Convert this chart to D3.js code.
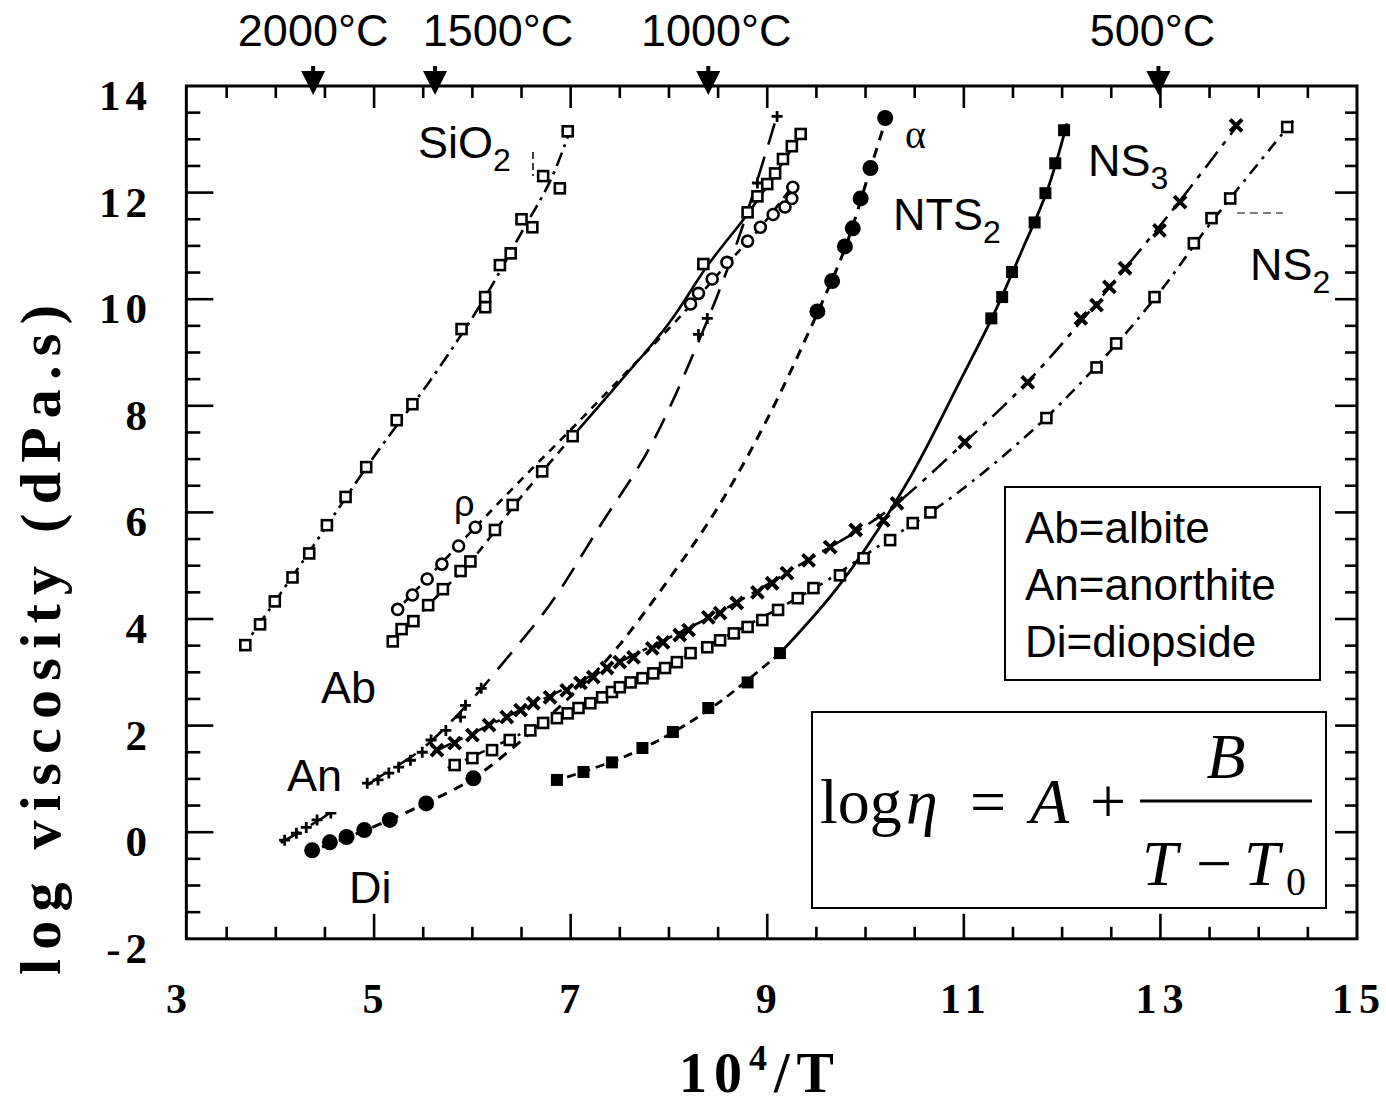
<!DOCTYPE html>
<html>
<head>
<meta charset="utf-8">
<script src="https://cdn.jsdelivr.net/npm/d3@7"></script>
<style>
  body { margin: 0; background: #fff; }
  svg { display: block; }
</style>
</head>
<body>
<svg id="chart" width="1386" height="1105"></svg>
<script>
// ---- Measured viscosity data: [10^4/T, log viscosity (dPa.s)] ----
const sio2 = [[3.69,3.51],[3.84,3.90],[3.99,4.33],[4.17,4.78],[4.34,5.23],[4.52,5.76],[4.71,6.29],[4.92,6.85],[5.23,7.73],[5.39,8.03],[5.89,9.44],[6.13,10.04],[6.13,9.85],[6.28,10.64],[6.39,10.86],[6.50,11.50],[6.61,11.35],[6.72,12.31],[6.89,12.08],[6.97,13.15]];
const albiteCircles = [[5.24,4.18],[5.39,4.45],[5.54,4.75],[5.69,5.03],[5.86,5.37],[6.03,5.72],[8.22,9.91],[8.30,10.11],[8.44,10.38],[8.59,10.69],[8.80,11.09],[8.93,11.35],[9.06,11.59],[9.18,11.73],[9.25,11.89],[9.26,12.10]];
const albiteSquares = [[5.19,3.58],[5.28,3.81],[5.40,3.96],[5.55,4.26],[5.70,4.56],[5.88,4.90],[5.98,5.08],[6.23,5.67],[6.41,6.14],[6.71,6.77],[7.02,7.43],[8.35,10.66],[8.80,11.63],[8.90,11.93],[9.00,12.16],[9.08,12.36],[9.16,12.63],[9.25,12.87],[9.34,13.10]];
const anorthite = [[4.09,-0.15],[4.21,-0.02],[4.31,0.09],[4.42,0.23],[4.56,0.36],[4.93,0.92],[5.04,0.98],[5.15,1.11],[5.25,1.22],[5.37,1.35],[5.49,1.50],[5.58,1.73],[5.73,1.91],[5.88,2.16],[5.93,2.38],[6.09,2.70],[8.30,9.34],[8.39,9.64],[8.90,12.18],[9.10,13.43]];
const diopside = [[4.37,-0.34],[4.55,-0.19],[4.72,-0.09],[4.90,0.04],[5.16,0.23],[5.53,0.54],[6.01,1.01],[9.51,9.77],[9.66,10.34],[9.79,10.99],[9.87,11.33],[9.95,11.89],[10.05,12.46],[10.20,13.40]];
const nts2 = [[6.86,0.98],[7.13,1.13],[7.42,1.31],[7.73,1.58],[8.04,1.88],[8.40,2.33],[8.80,2.81],[9.13,3.36],[11.28,9.64],[11.39,10.04],[11.49,10.51],[11.72,11.44],[11.83,11.99],[11.93,12.55],[12.02,13.17]];
const ns3 = [[5.64,1.54],[5.82,1.67],[6.00,1.82],[6.17,2.01],[6.35,2.16],[6.49,2.29],[6.62,2.42],[6.79,2.53],[6.96,2.66],[7.10,2.80],[7.23,2.91],[7.37,3.08],[7.50,3.19],[7.64,3.28],[7.83,3.45],[7.94,3.56],[8.11,3.70],[8.20,3.79],[8.40,4.03],[8.52,4.11],[8.69,4.30],[8.90,4.50],[9.05,4.67],[9.20,4.86],[9.42,5.10],[9.64,5.35],[9.90,5.67],[10.18,5.85],[10.32,6.17],[11.01,7.32],[11.65,8.44],[12.19,9.64],[12.35,9.89],[12.48,10.23],[12.64,10.58],[12.99,11.29],[13.20,11.82],[13.77,13.26]];
const ns2 = [[5.82,1.26],[6.00,1.39],[6.20,1.54],[6.38,1.73],[6.59,1.91],[6.72,2.05],[6.86,2.14],[6.97,2.23],[7.08,2.33],[7.20,2.42],[7.32,2.53],[7.42,2.63],[7.50,2.72],[7.61,2.81],[7.73,2.89],[7.84,2.98],[7.96,3.08],[8.08,3.19],[8.22,3.36],[8.39,3.47],[8.52,3.60],[8.66,3.73],[8.80,3.85],[8.95,3.98],[9.11,4.17],[9.31,4.39],[9.47,4.58],[9.74,4.82],[9.98,5.14],[10.25,5.48],[10.48,5.80],[10.66,6.00],[11.84,7.77],[12.35,8.72],[12.55,9.17],[12.94,10.04],[13.34,11.05],[13.52,11.52],[13.71,11.89],[14.29,13.23]];

// ---- Fitted VFT curves (vertices along each fit) ----
const sio2Fit = [[3.64,3.40],[4.3,5.15],[5.0,7.05],[5.6,8.55],[6.1,9.95],[6.5,11.25],[6.8,12.25],[7.02,13.3]];
const albiteCirclesFit = [[5.2,4.1],[5.6,4.88],[6.03,5.72],[6.5,6.62],[7.0,7.55],[7.5,8.5],[8.0,9.45],[8.3,10.05],[8.6,10.68],[8.9,11.28],[9.27,12.15]];
const albiteSquaresFit = [[5.15,3.5],[5.6,4.35],[6.0,5.12],[6.5,6.3],[7.02,7.43],[7.5,8.45],[8.0,9.55],[8.4,10.65],[8.8,11.6],[9.1,12.4],[9.36,13.15]];
const anorthiteFit = [[4.05,-0.2],[4.5,0.3],[5.0,0.97],[5.5,1.58],[6.0,2.5],[6.3,3.15],[6.8,4.3],[7.3,5.75],[7.8,7.2],[8.3,9.2],[8.7,11.1],[9.1,13.45]];
const diopsideFit = [[4.3,-0.4],[4.9,0.03],[5.5,0.52],[6.0,1.0],[6.5,1.72],[7.0,2.55],[7.4,3.3],[8.0,4.75],[8.5,6.1],[9.0,7.75],[9.5,9.7],[9.8,11.0],[10.05,12.45],[10.22,13.45]];
const nts2Fit = [[6.82,0.95],[7.5,1.38],[8.0,1.83],[8.5,2.42],[9.13,3.36],[9.74,4.65],[10.42,6.55],[10.96,8.46],[11.3,9.7],[11.6,10.95],[11.85,12.05],[12.05,13.3]];
const ns3Fit = [[5.6,1.5],[6.5,2.3],[7.5,3.2],[8.5,4.12],[9.5,5.2],[10.2,6.0],[11.0,7.3],[11.65,8.45],[12.2,9.6],[12.65,10.6],[13.2,11.85],[13.8,13.3]];
const ns2Fit = [[5.75,1.2],[6.5,1.85],[7.5,2.72],[8.5,3.6],[9.5,4.6],[10.2,5.45],[10.7,6.05],[11.2,6.75],[11.85,7.8],[12.5,9.05],[13.0,10.15],[13.5,11.4],[14.35,13.35]];

// ---- Axis ticks and temperature markers ----
const xTickLabels = [3, 5, 7, 9, 11, 13, 15];
const yTickLabels = [-2, 0, 2, 4, 6, 8, 10, 12, 14];
const tempLabels = ["2000°C", "1500°C", "1000°C", "500°C"];
const tempMarks = [4.38, 5.62, 8.40, 12.98];
const legendLines = ["Ab=albite", "An=anorthite", "Di=diopside"];

const svg = d3.select("#chart");
const x = d3.scaleLinear().domain([3, 15]).range([177.5, 1357]);
const y = d3.scaleLinear().domain([-2, 14]).range([938.8, 86]);
const xLeft = 3.09;
const SERIF = "'Liberation Serif','Times New Roman',serif";
const SANS = "'Liberation Sans',Arial,sans-serif";

// ---- Frame ----
svg.append("rect")
  .attr("x", x(xLeft)).attr("y", y(14))
  .attr("width", x(15) - x(xLeft)).attr("height", y(-2) - y(14))
  .attr("fill", "none").attr("stroke", "#000").attr("stroke-width", 3);

const tickG = svg.append("g").attr("stroke", "#000").attr("stroke-width", 2.6);
for (let v = 3.5; v < 15; v += 0.5) {
  const major = Number.isInteger(v) && v % 2 === 1;
  const L = major ? 25 : 12;
  tickG.append("line").attr("x1", x(v)).attr("x2", x(v)).attr("y1", y(-2)).attr("y2", y(-2) - L);
  tickG.append("line").attr("x1", x(v)).attr("x2", x(v)).attr("y1", y(14)).attr("y2", y(14) + (major ? 22 : 12));
}
for (let v = -1.5; v < 14; v += 0.5) {
  const major = Number.isInteger(v) && v % 2 === 0;
  const L = major ? 27 : 14;
  tickG.append("line").attr("x1", x(xLeft)).attr("x2", x(xLeft) + L).attr("y1", y(v)).attr("y2", y(v));
  tickG.append("line").attr("x1", x(15)).attr("x2", x(15) - (major ? 22 : 12)).attr("y1", y(v)).attr("y2", y(v));
}

// ---- Tick labels ----
svg.append("g").selectAll("text").data(xTickLabels).join("text")
  .attr("x", d => x(d) + 2).attr("y", 1013)
  .attr("text-anchor", "middle")
  .attr("font-family", SERIF).attr("font-weight", "bold").attr("font-size", 42)
  .attr("letter-spacing", 6)
  .text(d => String(d));
svg.append("g").selectAll("text").data(yTickLabels).join("text")
  .attr("x", 152).attr("y", d => y(d) + 24)
  .attr("text-anchor", "end")
  .attr("font-family", SERIF).attr("font-weight", "bold").attr("font-size", 43)
  .attr("letter-spacing", 5)
  .text(d => String(d));

// ---- Axis titles ----
svg.append("text")
  .attr("transform", "translate(60,640) rotate(-90)")
  .attr("text-anchor", "middle")
  .attr("font-family", SERIF).attr("font-weight", "bold").attr("font-size", 58)
  .attr("textLength", 670).attr("lengthAdjust", "spacing")
  .text("log  viscosity  (dPa.s)");
const xt = svg.append("text")
  .attr("x", 760).attr("y", 1092).attr("text-anchor", "middle")
  .attr("font-family", SERIF).attr("font-weight", "bold").attr("font-size", 56)
  .attr("letter-spacing", 7);
xt.append("tspan").text("10");
xt.append("tspan").attr("font-size", 36).attr("dy", -22).text("4");
xt.append("tspan").attr("dy", 22).text("/T");

// ---- Temperature markers on the top axis ----
const tempLabelShift = [0, 63, 8, -6];
tempMarks.forEach((t, i) => {
  const cx = x(t);
  svg.append("path")
    .attr("d", `M${cx - 2},66 L${cx + 2},66 L${cx + 2},71 L${cx + 12},71 L${cx},95 L${cx - 12},71 L${cx - 2},71 Z`)
    .attr("fill", "#000");
  svg.append("text")
    .attr("x", cx + tempLabelShift[i]).attr("y", 46).attr("text-anchor", "middle")
    .attr("font-family", SANS).attr("font-size", 45)
    .text(tempLabels[i]);
});

// ---- Fit curves ----
const line = d3.line().x(d => x(d[0])).y(d => y(d[1])).curve(d3.curveCatmullRom.alpha(0.5));
const curveG = svg.append("g").attr("fill", "none").attr("stroke", "#000").attr("stroke-linecap", "butt");
function drawCurve(pts, dash, width) {
  curveG.append("path").attr("d", line(pts))
    .attr("stroke-width", width).attr("stroke-dasharray", dash);
}
drawCurve(sio2Fit, "14,6,3,6", 2.6);
drawCurve(albiteCirclesFit, "8,7", 2.6);
drawCurve(albiteSquaresFit.filter(d => d[0] <= 7.02), "9,7", 2.6);
drawCurve(albiteSquaresFit.filter(d => d[0] >= 7.02), null, 2.6);
drawCurve(anorthiteFit, "22,13", 2.6);
drawCurve(diopsideFit, "10,8", 3);
drawCurve(nts2Fit.filter(d => d[0] <= 9.13), "9,6", 2.8);
drawCurve(nts2Fit.filter(d => d[0] >= 9.13), null, 2.8);
drawCurve(ns3Fit, "20,8,5,8", 2.6);
drawCurve(ns2Fit, "12,7,3,7", 2.6);

// ---- Data markers ----
const markG = svg.append("g");
function openSquares(pts) {
  markG.append("g").selectAll("rect").data(pts).join("rect")
    .attr("x", d => x(d[0]) - 5).attr("y", d => y(d[1]) - 5)
    .attr("width", 10).attr("height", 10)
    .attr("fill", "#fff").attr("stroke", "#000").attr("stroke-width", 2.6);
}
function openCircles(pts) {
  markG.append("g").selectAll("circle").data(pts).join("circle")
    .attr("cx", d => x(d[0])).attr("cy", d => y(d[1])).attr("r", 5.5)
    .attr("fill", "#fff").attr("stroke", "#000").attr("stroke-width", 2.6);
}
function filledCircles(pts, r) {
  markG.append("g").selectAll("circle").data(pts).join("circle")
    .attr("cx", d => x(d[0])).attr("cy", d => y(d[1])).attr("r", r)
    .attr("fill", "#000");
}
function filledSquares(pts) {
  markG.append("g").selectAll("rect").data(pts).join("rect")
    .attr("x", d => x(d[0]) - 6).attr("y", d => y(d[1]) - 6)
    .attr("width", 12).attr("height", 12).attr("fill", "#000");
}
function crosses(pts) {
  markG.append("g").selectAll("path").data(pts).join("path")
    .attr("d", d => { const cx = x(d[0]), cy = y(d[1]), s = 6;
      return `M${cx - s},${cy - s}L${cx + s},${cy + s}M${cx - s},${cy + s}L${cx + s},${cy - s}`; })
    .attr("stroke", "#000").attr("stroke-width", 4).attr("fill", "none");
}
function pluses(pts) {
  markG.append("g").selectAll("path").data(pts).join("path")
    .attr("d", d => { const cx = x(d[0]), cy = y(d[1]), s = 5.5;
      return `M${cx - s},${cy}L${cx + s},${cy}M${cx},${cy - s}L${cx},${cy + s}`; })
    .attr("stroke", "#000").attr("stroke-width", 2.8).attr("fill", "none");
}
openSquares(sio2);
openCircles(albiteCircles);
openSquares(albiteSquares);
pluses(anorthite);
filledCircles(diopside, 8);
filledSquares(nts2);
crosses(ns3);
openSquares(ns2);

// ---- Curve labels ----
const lab = svg.append("g").attr("font-family", SANS).attr("font-size", 45).attr("fill", "#000");
function subLabel(px, py, main, sub) {
  const t = lab.append("text").attr("x", px).attr("y", py);
  t.append("tspan").text(main);
  if (sub) t.append("tspan").attr("font-size", 32).attr("dy", 13).text(sub);
}
subLabel(418, 158, "SiO", "2");
subLabel(893, 230, "NTS", "2");
subLabel(1088, 176, "NS", "3");
subLabel(1250, 280, "NS", "2");
lab.append("text").attr("x", 905).attr("y", 148).attr("font-family", SERIF).attr("font-size", 40).text("α");
lab.append("text").attr("x", 454).attr("y", 516).attr("font-size", 36).text("ρ");
lab.append("text").attr("x", 321).attr("y", 703).text("Ab");
svg.append("rect").attr("x", 284).attr("y", 752).attr("width", 78).attr("height", 60).attr("fill", "#fff");
lab.raise();
lab.append("text").attr("x", 287).attr("y", 791).text("An");
lab.append("text").attr("x", 349).attr("y", 903).text("Di");
svg.append("line").attr("x1", 1237).attr("x2", 1283).attr("y1", 213).attr("y2", 213)
  .attr("stroke", "#000").attr("stroke-width", 1.2).attr("stroke-dasharray", "8,5");
svg.append("line").attr("x1", 533).attr("x2", 533).attr("y1", 152).attr("y2", 176)
  .attr("stroke", "#000").attr("stroke-width", 1.5).attr("stroke-dasharray", "7,4");

// ---- Legend box ----
svg.append("rect").attr("x", 1005).attr("y", 487).attr("width", 315).attr("height", 193)
  .attr("fill", "#fff").attr("stroke", "#000").attr("stroke-width", 2);
svg.append("g").selectAll("text").data(legendLines).join("text")
  .attr("x", 1025).attr("y", (d, i) => 543 + i * 57)
  .attr("font-family", SANS).attr("font-size", 44)
  .text(d => d);

// ---- Equation box ----
svg.append("rect").attr("x", 812).attr("y", 712).attr("width", 514).attr("height", 196)
  .attr("fill", "#fff").attr("stroke", "#000").attr("stroke-width", 2);
const eq = svg.append("g").attr("font-family", SERIF).attr("font-size", 64).attr("fill", "#000");
eq.append("text").attr("x", 820).attr("y", 823).text("log");
eq.append("text").attr("x", 906).attr("y", 823).attr("font-style", "italic").text("η");
eq.append("text").attr("x", 970).attr("y", 823).text("=");
eq.append("text").attr("x", 1030).attr("y", 823).attr("font-style", "italic").text("A");
eq.append("text").attr("x", 1090).attr("y", 823).text("+");
eq.append("text").attr("x", 1226).attr("y", 778).attr("text-anchor", "middle").attr("font-style", "italic").text("B");
eq.append("line").attr("x1", 1140).attr("x2", 1312).attr("y1", 801).attr("y2", 801)
  .attr("stroke", "#000").attr("stroke-width", 3);
eq.append("text").attr("x", 1142).attr("y", 885).attr("font-style", "italic").text("T");
eq.append("text").attr("x", 1196).attr("y", 885).text("−");
eq.append("text").attr("x", 1244).attr("y", 885).attr("font-style", "italic").text("T");
eq.append("text").attr("x", 1286).attr("y", 895).attr("font-size", 40).text("0");
</script>
</body>
</html>
